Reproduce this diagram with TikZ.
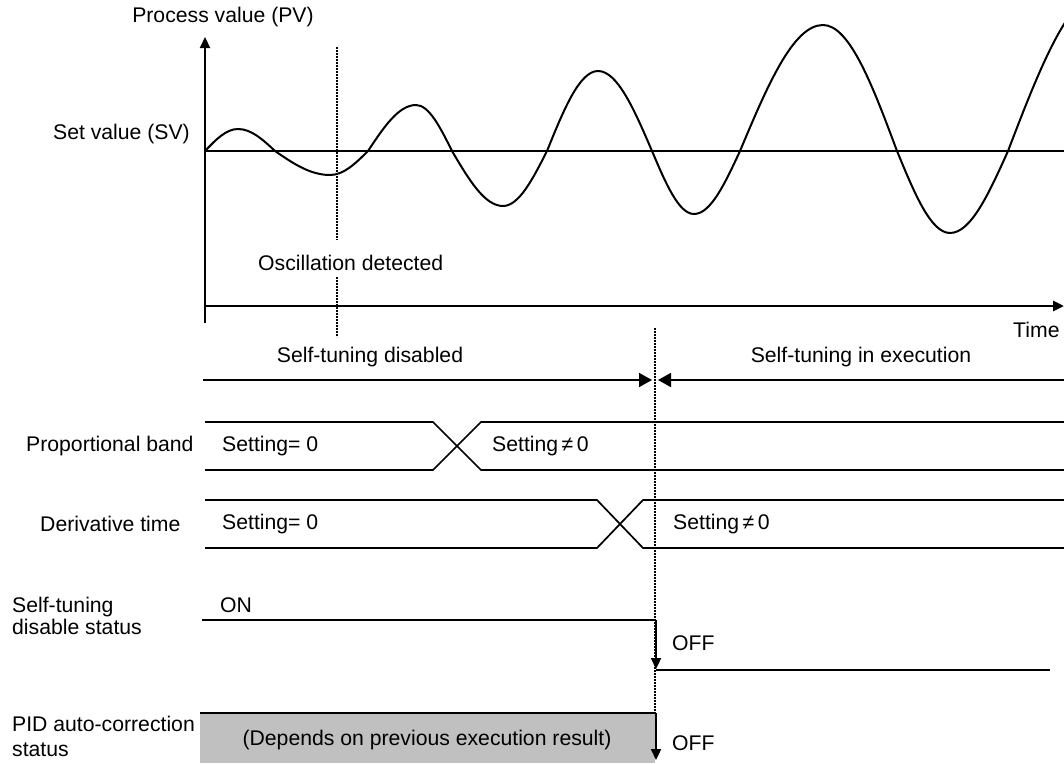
\documentclass[tikz,border=0pt]{standalone}
\usepackage{fontspec}
\setmainfont{Liberation Sans}
\usetikzlibrary{arrows.meta}
\newcommand\lblfont{\fontsize{21.2}{23}\selectfont}
\begin{document}
\begin{tikzpicture}[x=1pt,y=-1pt,
  lbl/.style={font=\lblfont, inner sep=0pt},
  axisline/.style={line width=2.8pt},
  sigline/.style={line width=1.7pt},
  onoff/.style={line width=2.2pt},
  waveline/.style={line width=2pt, line join=round},
  dotline/.style={line width=1.7pt, dash pattern=on 1.6pt off 1.4pt},
  smalltip/.style={-{Triangle[length=11pt,width=10pt]}},
  bigtip/.style={-{Triangle[length=13pt,width=14pt]}}]
\useasboundingbox (0,0) rectangle (1064,763);

% ---------- coordinates ----------
\coordinate (yb) at (205,323);
\coordinate (yt) at (205,37);
\coordinate (xa) at (205,306);
\coordinate (xb) at (1064,306);
\coordinate (sva) at (205,151);
\coordinate (svb) at (1064,151);
\coordinate (d1a) at (337,47);
\coordinate (d1b) at (337,240);
\coordinate (d1c) at (337,277);
\coordinate (d1d) at (337,337);
\coordinate (d2a) at (655,328);
\coordinate (d2b) at (655,713);

% ---------- texts ----------
\node[lbl] (pv) at (223,17) {Process value (PV)};
\node[lbl, anchor=east] (sv) at (190,134) {Set value (SV)};
\node[lbl, anchor=west] (osc) at (258,263) {Oscillation detected};
\node[lbl, anchor=west] (time) at (1013,330) {Time};
\node[lbl] (stdis) at (370,357) {Self-tuning disabled};
\node[lbl] (stexe) at (861,357) {Self-tuning in execution};
\node[lbl, anchor=west] (pb) at (26,446) {Proportional band};
\node[lbl, anchor=west] (pb0) at (222,446) {Setting= 0};
\node[lbl, anchor=west] (pb1) at (492,446) {Setting\,≠\,0};
\node[lbl, anchor=west] (dt) at (40,524) {Derivative time};
\node[lbl, anchor=west] (dt0) at (222,524) {Setting= 0};
\node[lbl, anchor=west] (dt1) at (673,524) {Setting\,≠\,0};
\node[lbl, anchor=west, align=left, font=\fontsize{21.2}{22.5}\selectfont] (std) at (12,616) {Self-tuning\\disable status};
\node[lbl, anchor=west] (on) at (220,605) {ON};
\node[lbl, anchor=west] (off1) at (672,643) {OFF};
\node[lbl, anchor=west, align=left, font=\fontsize{21.2}{25}\selectfont] (pid) at (12,736) {PID auto-correction\\status};
\node[lbl, anchor=west] (off2) at (672,743) {OFF};

% ---------- axes ----------
\draw[axisline, line width=2.2pt, smalltip] (yb) -- (yt);
\draw[axisline, smalltip] (xa) -- (xb);
\draw[axisline] (sva) -- (svb);

% ---------- wave ----------
\begin{scope}
\clip (205,0) rectangle (1064,300);
\draw[waveline] (205,151)
  .. controls (215.8,139.7) and (226.1,129) .. (238,129)
  .. controls (251.4,129) and (262.9,139.7) .. (275,151)
  .. controls (292.9,163.3) and (310.1,175) .. (330,175)
  .. controls (343.8,175) and (355.6,163.3) .. (368,151)
  .. controls (383.6,127.4) and (398.6,105) .. (416,105)
  .. controls (429,105) and (440.3,127.4) .. (452,151)
  .. controls (468.6,179.2) and (484.5,206) .. (503,206)
  .. controls (518.9,206) and (532.7,179.2) .. (547,151)
  .. controls (563.6,110) and (579.5,71) .. (598,71)
  .. controls (617.5,71) and (634.4,110) .. (652,151)
  .. controls (665.7,183.3) and (678.8,214) .. (694,214)
  .. controls (710.7,214) and (725,183.3) .. (740,151)
  .. controls (767.1,86.5) and (793,25) .. (823,25)
  .. controls (849.8,25) and (872.9,86.5) .. (897,151)
  .. controls (914.3,193) and (930.8,233) .. (950,233)
  .. controls (971,233) and (989.1,193) .. (1008,151)
  .. controls (1039.6,68.5) and (1069.9,-10) .. (1105,-10);
\end{scope}

% ---------- dotted markers ----------
\draw[dotline] (d1a) -- (d1b);
\draw[dotline] (d1c) -- (d1d);
\draw[dotline] (d2a) -- (d2b);

% ---------- self-tuning range arrows ----------
\coordinate (ra) at (203,380);
\coordinate (rb) at (652,380);
\coordinate (rc) at (1064,380);
\coordinate (rd) at (658,380);
\draw[sigline, bigtip] (ra) -- (rb);
\draw[sigline, bigtip] (rc) -- (rd);

% ---------- proportional band ----------
\coordinate (p1) at (205,422);
\coordinate (p2) at (433,422);
\coordinate (p3) at (481,470);
\coordinate (p4) at (1064,470);
\coordinate (p5) at (205,470);
\coordinate (p6) at (433,470);
\coordinate (p7) at (481,422);
\coordinate (p8) at (1064,422);
\draw[sigline] (p1) -- (p2) -- (p3) -- (p4);
\draw[sigline] (p5) -- (p6) -- (p7) -- (p8);

% ---------- derivative time ----------
\coordinate (q1) at (205,500);
\coordinate (q2) at (597,500);
\coordinate (q3) at (643,548);
\coordinate (q4) at (1064,548);
\coordinate (q5) at (205,548);
\coordinate (q6) at (597,548);
\coordinate (q7) at (643,500);
\coordinate (q8) at (1064,500);
\draw[sigline] (q1) -- (q2) -- (q3) -- (q4);
\draw[sigline] (q5) -- (q6) -- (q7) -- (q8);

% ---------- self-tuning disable status ----------
\coordinate (s1) at (202,620);
\coordinate (s2) at (656,620);
\coordinate (s3) at (656,669);
\coordinate (s4) at (656,670);
\coordinate (s5) at (1050,670);
\draw[onoff] (s1) -- (s2);
\draw[onoff, smalltip] (s2) -- (s3);
\draw[sigline] (s4) -- (s5);

% ---------- PID auto-correction status ----------
\fill[fill={rgb,255:red,192;green,192;blue,192}] (200,713) rectangle (655,763);
\node[lbl] (dep) at (427,740) {(Depends on previous execution result)};
\coordinate (t1) at (200,713);
\coordinate (t2) at (656,713);
\coordinate (t3) at (656,760);
\draw[onoff] (t1) -- (t2);
\draw[onoff, smalltip] (t2) -- (t3);
\end{tikzpicture}
\end{document}
